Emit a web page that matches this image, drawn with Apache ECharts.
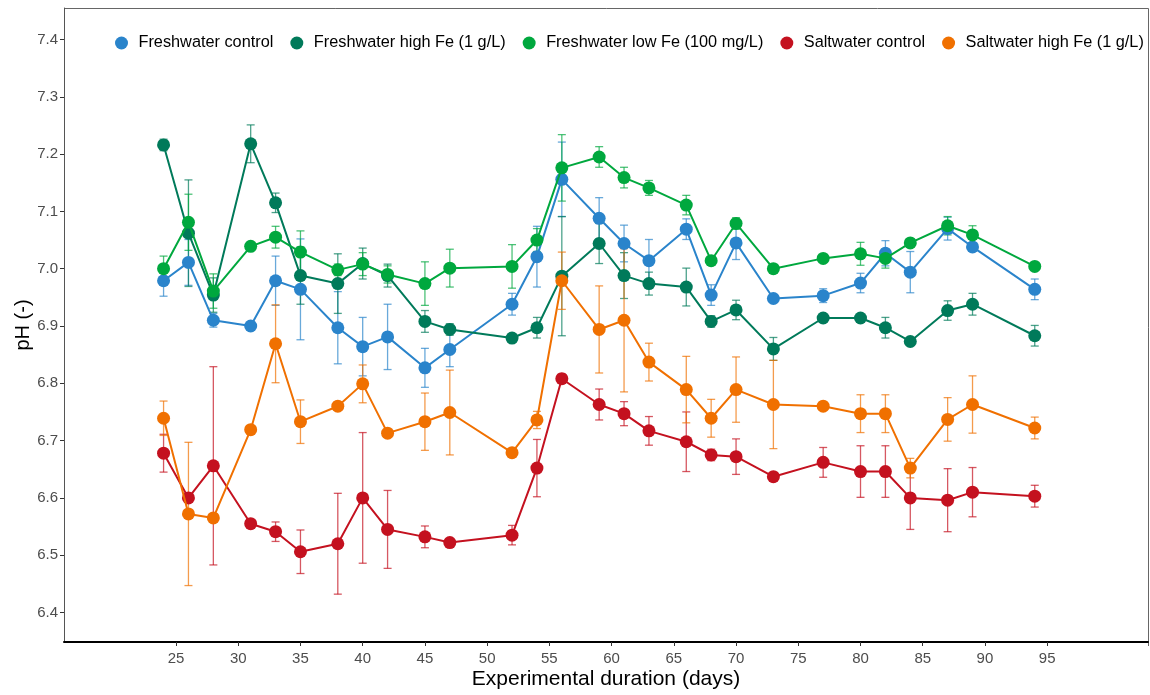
<!DOCTYPE html>
<html>
<head>
<meta charset="utf-8">
<script src="https://cdn.jsdelivr.net/npm/echarts@6/dist/echarts.min.js"></script>
<style>
html,body{margin:0;padding:0;background:#fff;}
#chart{width:1150px;height:695px;}
</style>
</head>
<body>
<div id="chart"></div>
<script>
const days = [24, 26, 28, 31, 33, 35, 38, 40, 42, 45, 47, 52, 54, 56, 59, 61, 63, 66, 68, 70, 73, 77, 80, 82, 84, 87, 89, 94];

const seriesNames = ["Freshwater control", "Freshwater high Fe (1 g/L)", "Freshwater low Fe (100 mg/L)", "Saltwater control", "Saltwater high Fe (1 g/L)"];

const fwControl = [6.979, 7.011, 6.910, 6.900, 6.979, 6.964, 6.897, 6.864, 6.881, 6.827, 6.859, 6.938, 7.021, 7.156, 7.088, 7.044, 7.014, 7.069, 6.954, 7.045, 6.948, 6.953, 6.975, 7.027, 6.994, 7.070, 7.038, 6.964];
const fwControlSd = [0.027, 0.04, 0.012, 0, 0.043, 0.088, 0.063, 0.051, 0.057, 0.034, 0.03, 0.019, 0.053, 0.065, 0.036, 0.032, 0.037, 0.018, 0.018, 0.029, 0, 0.012, 0.017, 0.022, 0.036, 0.02, 0, 0.018];

const fwHighFe = [7.216, 7.062, 6.954, 7.218, 7.115, 6.988, 6.974, 7.009, 6.988, 6.908, 6.894, 6.879, 6.897, 6.987, 7.044, 6.988, 6.974, 6.968, 6.908, 6.928, 6.860, 6.914, 6.914, 6.897, 6.873, 6.927, 6.938, 6.883];
const fwHighFeSd = [0.01, 0.093, 0.03, 0.033, 0.017, 0.05, 0.052, 0.027, 0.02, 0.019, 0.01, 0, 0.018, 0.104, 0.035, 0.04, 0.02, 0.033, 0.01, 0.017, 0.02, 0, 0, 0.018, 0, 0.017, 0.019, 0.018];

const fwLowFe = [7.000, 7.081, 6.961, 7.039, 7.055, 7.029, 6.998, 7.008, 6.990, 6.974, 7.001, 7.004, 7.050, 7.176, 7.195, 7.159, 7.141, 7.111, 7.014, 7.079, 7.000, 7.018, 7.026, 7.018, 7.045, 7.075, 7.059, 7.004];
const fwLowFeSd = [0.022, 0.049, 0.03, 0, 0.019, 0.037, 0.01, 0.02, 0.015, 0.038, 0.033, 0.038, 0.02, 0.058, 0.018, 0.018, 0.013, 0.017, 0, 0.01, 0, 0, 0.02, 0.017, 0, 0.016, 0.016, 0];

const swControl = [6.678, 6.600, 6.656, 6.555, 6.541, 6.506, 6.520, 6.600, 6.545, 6.532, 6.522, 6.535, 6.652, 6.808, 6.763, 6.747, 6.717, 6.698, 6.675, 6.672, 6.637, 6.662, 6.646, 6.646, 6.600, 6.596, 6.610, 6.603];
const swControlSd = [0.033, 0, 0.173, 0, 0.017, 0.038, 0.088, 0.114, 0.068, 0.019, 0, 0.017, 0.05, 0.008, 0.027, 0.021, 0.025, 0.052, 0.01, 0.031, 0, 0.026, 0.045, 0.045, 0.055, 0.055, 0.043, 0.019];

const swHighFe = [6.739, 6.572, 6.565, 6.719, 6.869, 6.733, 6.760, 6.799, 6.713, 6.733, 6.749, 6.679, 6.736, 6.979, 6.894, 6.910, 6.837, 6.789, 6.739, 6.789, 6.763, 6.760, 6.747, 6.747, 6.652, 6.737, 6.763, 6.722];
const swHighFeSd = [0.03, 0.125, 0, 0, 0.068, 0.038, 0, 0.033, 0, 0.05, 0.074, 0, 0.015, 0.05, 0.076, 0.125, 0.033, 0.058, 0.033, 0.057, 0.077, 0, 0.033, 0.033, 0.017, 0.038, 0.05, 0.019];

const xTicks = [25, 30, 35, 40, 45, 50, 55, 60, 65, 70, 75, 80, 85, 90, 95];
const yTicks = [6.4, 6.5, 6.6, 6.7, 6.8, 6.9, 7.0, 7.1, 7.2, 7.3, 7.4];

const colors = ["#2a84cb", "#007a5a", "#00a83e", "#c4111f", "#f07000"];
const barColors = ["rgba(42,132,203,0.7)", "rgba(0,122,90,0.7)", "rgba(0,168,62,0.7)", "rgba(196,17,31,0.7)", "rgba(240,112,0,0.7)"];

const means = [fwControl, fwHighFe, fwLowFe, swControl, swHighFe];
const sds = [fwControlSd, fwHighFeSd, fwLowFeSd, swControlSd, swHighFeSd];

const chart = echarts.init(document.getElementById('chart'));
const FONT = '"Liberation Sans", Arial, sans-serif';

const series = [];
means.forEach((m, i) => {
  const data = days.map((d, k) => [d, m[k] - sds[i][k], m[k] + sds[i][k]]).filter((r, k) => sds[i][k] > 0);
  series.push({
    type: 'custom',
    name: seriesNames[i],
    z: 1,
    silent: true,
    data: data,
    encode: { x: 0, y: [1, 2] },
    renderItem: (params, api) => {
      const x = api.value(0);
      const lo = api.coord([x, api.value(1)]);
      const hi = api.coord([x, api.value(2)]);
      const w = 4;
      const st = { stroke: barColors[i], lineWidth: 1.3, fill: null };
      return {
        type: 'group',
        children: [
          { type: 'line', shape: { x1: lo[0], y1: lo[1], x2: hi[0], y2: hi[1] }, style: st },
          { type: 'line', shape: { x1: hi[0] - w, y1: hi[1], x2: hi[0] + w, y2: hi[1] }, style: st },
          { type: 'line', shape: { x1: lo[0] - w, y1: lo[1], x2: lo[0] + w, y2: lo[1] }, style: st }
        ]
      };
    }
  });
});
means.forEach((m, i) => {
  series.push({
    type: 'line',
    name: seriesNames[i],
    z: 2 + i,
    data: days.map((d, k) => [d, m[k]]),
    symbol: 'circle',
    symbolSize: 13,
    showSymbol: true,
    itemStyle: { color: colors[i] },
    lineStyle: { color: colors[i], width: 2 },
    emphasis: { disabled: true },
    animation: false
  });
});

chart.setOption({
  animation: false,
  color: colors,
  grid: { left: 64, right: 2, top: 8, bottom: 49, containLabel: false },
  legend: {
    data: seriesNames.map((n) => ({ name: n, icon: 'circle' })),
    left: 110,
    top: 30,
    itemWidth: 24,
    itemHeight: 13,
    itemGap: 17,
    textStyle: { fontFamily: FONT, fontSize: 16.3, color: '#000' }
  },
  xAxis: {
    type: 'value',
    min: 16,
    max: 103.1,
    name: 'Experimental duration (days)',
    nameLocation: 'middle',
    nameGap: 27,
    nameMoveOverlap: false,
    nameTextStyle: { fontFamily: FONT, fontSize: 21, color: '#000' },
    axisLine: { show: true, onZero: false, lineStyle: { color: '#000', width: 2 } },
    axisTick: { show: true, customValues: xTicks, length: 4, lineStyle: { color: '#333' } },
    axisLabel: { customValues: xTicks, fontFamily: FONT, fontSize: 15, color: '#4d4d4d', margin: 9 },
    splitLine: { show: false }
  },
  yAxis: {
    type: 'value',
    min: 6.3485,
    max: 7.455,
    name: 'pH (-)',
    nameLocation: 'middle',
    nameGap: 31,
    nameMoveOverlap: false,
    nameTextStyle: { fontFamily: FONT, fontSize: 20, color: '#000' },
    axisLine: { show: true, onZero: false, lineStyle: { color: '#555', width: 1 } },
    axisTick: { show: true, customValues: yTicks, length: 4, lineStyle: { color: '#333' } },
    axisLabel: { customValues: yTicks, fontFamily: FONT, fontSize: 15, color: '#4d4d4d', margin: 6,
      formatter: (v) => v.toFixed(1) },
    splitLine: { show: false }
  },
  graphic: [
    { type: 'line', shape: { x1: 64, y1: 8.5, x2: 1148.5, y2: 8.5 }, style: { stroke: '#666', lineWidth: 1 }, silent: true },
    { type: 'line', shape: { x1: 1148.5, y1: 8.5, x2: 1148.5, y2: 646 }, style: { stroke: '#666', lineWidth: 1 }, silent: true }
  ],
  series: series
});
</script>
</body>
</html>
